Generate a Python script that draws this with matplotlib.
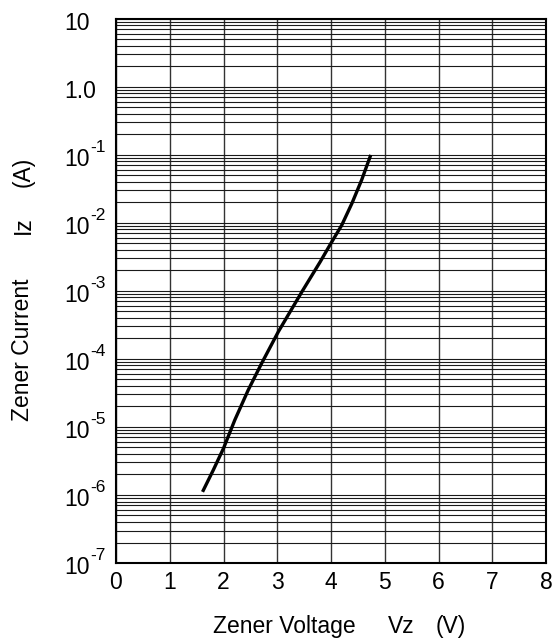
import numpy as np
import matplotlib
matplotlib.use('Agg')
import matplotlib.pyplot as plt
from matplotlib import transforms

plt.rcParams['font.family'] = ['Liberation Sans', 'DejaVu Sans']

# Zener curve
vz = [1.61, 1.81, 2.00, 2.21, 2.46, 2.71, 3.02, 3.46, 3.80, 3.98, 4.20, 4.39, 4.57, 4.74]
iz = [1.11e-6, 2.32e-6, 4.84e-6, 1.26e-5, 3.48e-5, 8.6e-5, 2.5e-4, 9.7e-4, 2.67e-3,
      4.7e-3, 9.2e-3, 1.93e-2, 4.24e-2, 9.9e-2]

x_ticks = [0, 1, 2, 3, 4, 5, 6, 7, 8]
y_ticks = [1e-7, 1e-6, 1e-5, 1e-4, 1e-3, 1e-2, 1e-1, 1.0, 10.0]
y_base = ['10', '10', '10', '10', '10', '10', '10', '1.0', '10']
y_exp = ['-7', '-6', '-5', '-4', '-3', '-2', '-1', '', '']

fs = 16.5
fig = plt.figure(figsize=(5.54, 6.4), dpi=100)
ax = fig.add_axes([116/554, 77/640, 430/554, 544.5/640])

ax.set_yscale('log')
ax.set_xlim(0, 8)
ax.set_ylim(1e-7, 10)
ax.set_xticks(x_ticks)
ax.set_xticklabels([str(t) for t in x_ticks], fontsize=fs)
ax.set_yticks(y_ticks)
ax.set_yticklabels([])
ax.yaxis.set_minor_locator(matplotlib.ticker.LogLocator(base=10, subs=np.arange(2, 10)))
ax.yaxis.set_minor_formatter(matplotlib.ticker.NullFormatter())
ax.tick_params(axis='both', which='both', length=0)
ax.tick_params(axis='x', pad=6)

ax.grid(True, axis='y', which='both', color='#1a1a1a', lw=0.8)
ax.grid(True, axis='x', which='major', color='#333333', lw=1.0)
for s in ax.spines.values():
    s.set_linewidth(1.5)
    s.set_color('black')

ax.plot(vz, iz, color='black', lw=2.4, solid_capstyle='butt', solid_joinstyle='round')

# y tick labels: left aligned, "10" with a raised exponent
renderer = fig.canvas.get_renderer()
blend = transforms.blended_transform_factory(fig.transFigure, ax.transData)
for val, base, ex in zip(y_ticks, y_base, y_exp):
    tr = transforms.offset_copy(blend, fig=fig, x=0, y=-11, units='dots')
    t = ax.text(64/554, val, base, fontsize=fs, ha='left', va='baseline',
                transform=tr, clip_on=False)
    if ex:
        w = t.get_window_extent(renderer).width
        tr2 = transforms.offset_copy(blend, fig=fig, x=w + 0.5, y=3, units='dots')
        ax.text(64/554, val, ex, fontsize=12.5, ha='left', va='baseline',
                transform=tr2, clip_on=False)

# axis titles, split like the original
fig.text(284.5/554, (640-633)/640, 'Zener Voltage', fontsize=fs, ha='center', va='baseline')
fig.text(401/554, (640-633)/640, 'Vz', fontsize=fs, ha='center', va='baseline')
fig.text(451/554, (640-633)/640, '(V)', fontsize=fs, ha='center', va='baseline')
fig.text(23/554, 1-350/640, 'Zener Current', fontsize=fs, rotation=90, ha='center', va='center')
fig.text(23/554, 1-225/640, 'Iz', fontsize=fs, rotation=90, ha='center', va='center')
fig.text(23/554, 1-172/640, '(A)', fontsize=fs, rotation=90, ha='center', va='center')

fig.savefig('out.png', dpi=100)
